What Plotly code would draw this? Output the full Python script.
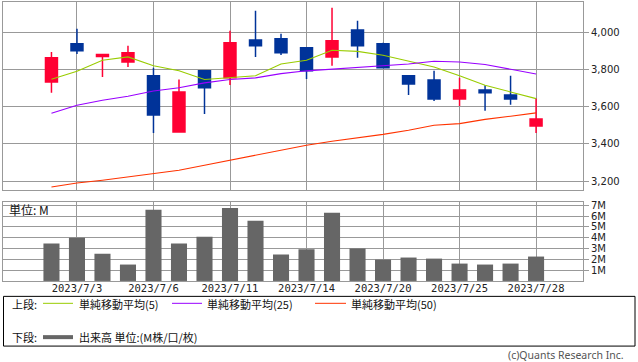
import plotly.graph_objects as go

dates = ["2023/6/30", "2023/7/3", "2023/7/4", "2023/7/5", "2023/7/6", "2023/7/7",
         "2023/7/10", "2023/7/11", "2023/7/12", "2023/7/13", "2023/7/14", "2023/7/18",
         "2023/7/19", "2023/7/20", "2023/7/21", "2023/7/24", "2023/7/25", "2023/7/26",
         "2023/7/27", "2023/7/28"]
open_ = [3735, 3941, 3872, 3843, 3768, 3465, 3795, 3757, 3962, 3968, 3919, 3870,
         4016, 3941, 3768, 3746, 3643, 3692, 3665, 3497]
high = [3897, 4022, 3885, 3930, 3812, 3748, 3795, 4011, 4119, 3995, 3924, 4135,
        4065, 3946, 3773, 3795, 3757, 3717, 3768, 3645]
low = [3676, 3886, 3762, 3816, 3459, 3465, 3562, 3719, 3870, 3881, 3751, 3822,
       3865, 3811, 3665, 3632, 3605, 3580, 3612, 3459]
close = [3865, 3903, 3883, 3892, 3557, 3681, 3703, 3946, 3930, 3892, 3795, 3957,
         3930, 3811, 3724, 3643, 3692, 3676, 3643, 3535]
ma5 = [3750, 3793, 3852, 3870, 3822, 3795, 3748, 3757, 3768, 3832, 3852, 3906,
       3900, 3879, 3847, 3816, 3768, 3717, 3681, 3645]
ma25 = [3566, 3609, 3636, 3658, 3686, 3704, 3730, 3748, 3757, 3780, 3795, 3804,
        3814, 3825, 3832, 3847, 3843, 3829, 3802, 3778]
ma50 = [3168, 3189, 3204, 3222, 3240, 3258, 3285, 3312, 3339, 3366, 3393, 3415,
        3432, 3452, 3474, 3501, 3510, 3533, 3550, 3568]
volume_m = [3.46, 4.0, 2.53, 1.52, 6.59, 3.46, 4.1, 6.77, 5.58, 2.44, 2.93, 6.31,
            3.0, 1.98, 2.17, 2.07, 1.61, 1.52, 1.61, 2.26]

date_ticks = ["2023/7/3", "2023/7/6", "2023/7/11", "2023/7/14", "2023/7/20",
              "2023/7/25", "2023/7/28"]
price_ticks = [3200, 3400, 3600, 3800, 4000]
vol_ticks = [1, 2, 3, 4, 5, 6, 7]
vol_tick_labels = ["1M", "2M", "3M", "4M", "5M", "6M", "7M"]

W, H = 638, 362
def fx(x): return x / W
def fy(y): return 1 - y / H

UP = "#ff0033"
DOWN = "#003399"
GRID = "#999999"

fig = go.Figure()
fig.add_trace(go.Candlestick(
    x=dates, open=open_, high=high, low=low, close=close,
    increasing=dict(line=dict(color=UP, width=1.5), fillcolor=UP),
    decreasing=dict(line=dict(color=DOWN, width=1.5), fillcolor=DOWN),
    whiskerwidth=0, xaxis="x", yaxis="y", showlegend=False, hoverinfo="skip"))
fig.add_trace(go.Scatter(x=dates, y=ma5, mode="lines", line=dict(color="#99cc00", width=1.1),
                         xaxis="x", yaxis="y", showlegend=False, hoverinfo="skip"))
fig.add_trace(go.Scatter(x=dates, y=ma25, mode="lines", line=dict(color="#9900ff", width=1.1),
                         xaxis="x", yaxis="y", showlegend=False, hoverinfo="skip"))
fig.add_trace(go.Scatter(x=dates, y=ma50, mode="lines", line=dict(color="#ff3300", width=1.1),
                         xaxis="x", yaxis="y", showlegend=False, hoverinfo="skip"))
fig.add_trace(go.Bar(x=dates, y=volume_m, marker=dict(color="#666666", line=dict(width=0)),
                     width=0.63, xaxis="x2", yaxis="y2", showlegend=False, hoverinfo="skip"))

xr = [-1.90, 20.84]
common_x = dict(type="category", categoryorder="array", categoryarray=dates,
                range=xr, showgrid=True, gridcolor=GRID, gridwidth=1,
                tickmode="array", tickvals=date_ticks, ticktext=date_ticks,
                showline=True, linecolor=GRID, linewidth=1, mirror=True,
                ticks="", zeroline=False, fixedrange=True)

fig.update_layout(
    width=W, height=H, margin=dict(l=0, r=0, t=0, b=0, pad=0),
    paper_bgcolor="white", plot_bgcolor="white", boxgap=0.33,
    xaxis=dict(**common_x, domain=[fx(3), fx(583)], anchor="y", showticklabels=False,
               rangeslider=dict(visible=False)),
    yaxis=dict(domain=[fy(189.5), fy(0.5)], range=[3149, 4164], side="right",
               anchor="x", tickmode="array", tickvals=price_ticks, tickformat=",",
               showgrid=True, gridcolor=GRID, showline=True, linecolor=GRID, mirror=True,
               ticks="outside", ticklen=5, tickcolor=GRID, zeroline=False,
               tickfont=dict(family="DejaVu Sans", size=10, color="#222222")),
    xaxis2=dict(**common_x, domain=[fx(3), fx(583)], anchor="y2", showticklabels=True,
                ticklabelstandoff=-3,
                tickfont=dict(family="DejaVu Sans Mono", size=10.5, color="#222222")),
    yaxis2=dict(domain=[fy(280.5), fy(201.5)], range=[0, 7.28], side="right",
                anchor="x2", tickmode="array", tickvals=vol_ticks, ticktext=vol_tick_labels,
                showgrid=True, gridcolor=GRID, showline=True, linecolor=GRID, mirror=True,
                ticks="outside", ticklen=5, tickcolor=GRID, zeroline=False,
                tickfont=dict(family="DejaVu Sans", size=10, color="#222222")),
)

txt_font = dict(family="Noto Sans CJK JP", size=11, color="#111111")
annotations = [
    dict(x=fx(8), y=fy(209), text="単位: M", font=dict(family="Noto Sans CJK JP", size=12, color="#111111")),
    dict(x=fx(11), y=fy(303.5), text="上段:", font=txt_font),
    dict(x=fx(78), y=fy(303.5), text="単純移動平均(5)", font=txt_font),
    dict(x=fx(206), y=fy(303.5), text="単純移動平均(25)", font=txt_font),
    dict(x=fx(350), y=fy(303.5), text="単純移動平均(50)", font=txt_font),
    dict(x=fx(11), y=fy(337), text="下段:", font=txt_font),
    dict(x=fx(78), y=fy(337), text="出来高 単位:(M株/口/枚)", font=txt_font),
]
for a in annotations:
    a.update(xref="paper", yref="paper", xanchor="left", yanchor="middle", showarrow=False,
             borderpad=0)
annotations.append(dict(x=fx(625), y=fy(355), xref="paper", yref="paper", xanchor="right",
                        yanchor="middle", showarrow=False, borderpad=0,
                        text="(c)Quants Research Inc.",
                        font=dict(family="Noto Sans", size=10.5, color="#555555")))
fig.update_layout(annotations=annotations)

shapes = [
    dict(type="rect", xref="paper", yref="paper", x0=fx(3.5), x1=fx(635), y0=fy(346), y1=fy(296),
         line=dict(color="#000000", width=1), fillcolor="rgba(0,0,0,0)"),
    dict(type="line", xref="paper", yref="paper", x0=fx(43), x1=fx(73), y0=fy(303), y1=fy(303),
         line=dict(color="#99cc00", width=1)),
    dict(type="line", xref="paper", yref="paper", x0=fx(172), x1=fx(202), y0=fy(303), y1=fy(303),
         line=dict(color="#9900ff", width=1)),
    dict(type="line", xref="paper", yref="paper", x0=fx(315), x1=fx(346), y0=fy(303), y1=fy(303),
         line=dict(color="#ff3300", width=1)),
    dict(type="line", xref="paper", yref="paper", x0=fx(43), x1=fx(73), y0=fy(337), y1=fy(337),
         line=dict(color="#666666", width=4)),
]
fig.update_layout(shapes=shapes)

fig.write_html("out.html", config={"displayModeBar": False})

# remove the browser's default page margin so the figure sits at the window's top-left corner
with open("out.html", "r", encoding="utf-8") as f:
    html = f.read()
html = html.replace("<head>", "<head><style>html,body{margin:0;padding:0;overflow:hidden;}</style>", 1)
with open("out.html", "w", encoding="utf-8") as f:
    f.write(html)
